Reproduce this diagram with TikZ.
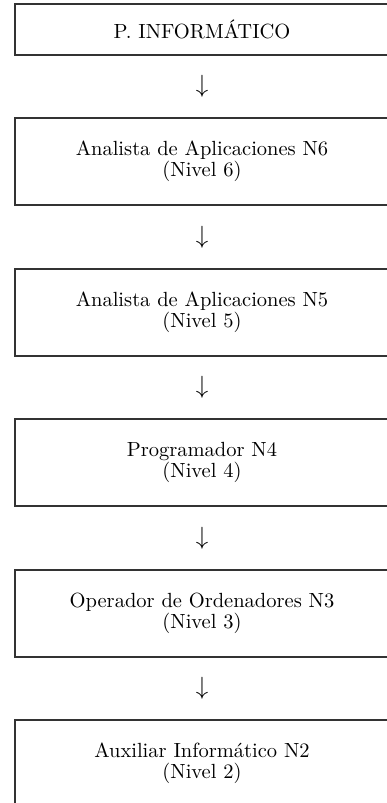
\documentclass[tikz,border=0pt]{standalone}
\usepackage{fontspec}
\setmainfont{lmroman10-regular.otf}
\tikzset{
  stage/.style={draw=black!80, line width=1.1pt, minimum width=374pt, minimum height=87pt,
    inner sep=0pt, align=center, text=black, font=\fontsize{20.5}{21}\selectfont},
  topstage/.style={stage, minimum height=51pt},
  downsign/.style={inner sep=0pt, text=black, font=\fontsize{25}{25}\selectfont}
}
\begin{document}
\begin{tikzpicture}[x=1pt,y=-1pt]
\clip (0,0) rectangle (387,803);
\node[topstage] (b1) at (202,29.5) {P. INFORMÁTICO};
\node[stage] (b2) at (202,161.5) {Analista de Aplicaciones N6\\(Nivel 6)};
\node[stage] (b3) at (202,312.5) {Analista de Aplicaciones N5\\(Nivel 5)};
\node[stage] (b4) at (202,462.5) {Programador N4\\(Nivel 4)};
\node[stage] (b5) at (202,613.5) {Operador de Ordenadores N3\\(Nivel 3)};
\node[stage] (b6) at (202,763.5) {Auxiliar Informático N2\\(Nivel 2)};
\node[downsign] (a1) at (202,86.5) {$\downarrow$};
\node[downsign] (a2) at (202,237) {$\downarrow$};
\node[downsign] (a3) at (202,387.5) {$\downarrow$};
\node[downsign] (a4) at (202,538) {$\downarrow$};
\node[downsign] (a5) at (202,688.5) {$\downarrow$};
\end{tikzpicture}
\end{document}
